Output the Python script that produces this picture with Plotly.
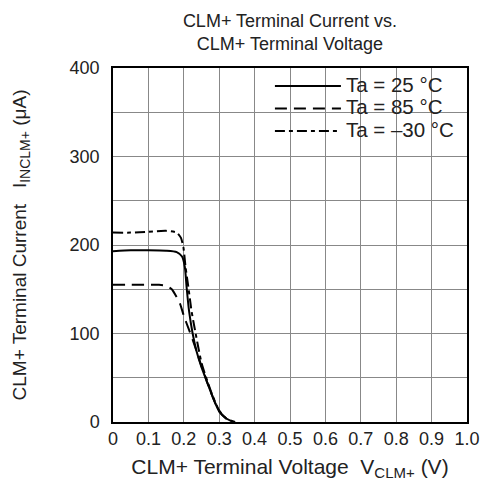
import plotly.graph_objects as go

x_25 = [0, 0.05, 0.10, 0.15, 0.18, 0.195, 0.203, 0.208, 0.215, 0.225, 0.236, 0.25, 0.265, 0.28, 0.30, 0.32, 0.34]
y_25 = [193, 194, 194, 193.5, 192, 187, 175, 152, 125, 100, 80, 62, 46, 30, 12, 4, 0]

x_85 = [0, 0.05, 0.10, 0.13, 0.15, 0.166, 0.18, 0.19, 0.20, 0.213, 0.225, 0.236, 0.25, 0.265, 0.28, 0.30, 0.33]
y_85 = [155, 155, 155, 155, 154, 150, 141, 133, 120, 106, 93, 80, 63, 46, 30, 12, 0]

x_m30 = [0, 0.05, 0.10, 0.15, 0.18, 0.192, 0.199, 0.205, 0.213, 0.222, 0.232, 0.25, 0.265, 0.28, 0.30, 0.32, 0.345]
y_m30 = [214, 214, 215, 216, 214, 208, 197, 175, 152, 125, 103, 67, 48, 31, 13, 4, 0]

series_names = ["Ta = 25 °C", "Ta = 85 °C", "Ta = –30 °C"]

x_ticks = [0, 0.1, 0.2, 0.3, 0.4, 0.5, 0.6, 0.7, 0.8, 0.9, 1.0]
x_tick_text = ["0", "0.1", "0.2", "0.3", "0.4", "0.5", "0.6", "0.7", "0.8", "0.9", "1.0"]
y_ticks = [0, 100, 200, 300, 400]

FONT = "Arial, Liberation Sans, sans-serif"
TXT = "#222"


def big(s, px=20.5):
    return f'<span style="font-size:{px}px">{s}</span>'


fig = go.Figure()
fig.add_trace(go.Scatter(x=x_25, y=y_25, mode="lines", name=big(series_names[0]),
                         line=dict(color="black", width=2, shape="spline", smoothing=0.6)))
fig.add_trace(go.Scatter(x=x_85, y=y_85, mode="lines", name=big(series_names[1]),
                         line=dict(color="black", width=2, dash="12px,7px", shape="spline", smoothing=0.6)))
fig.add_trace(go.Scatter(x=x_m30, y=y_m30, mode="lines", name=big(series_names[2]),
                         line=dict(color="black", width=2, dash="10px,4px,4px,4px", shape="spline", smoothing=0.6)))

fig.update_layout(
    width=483, height=491,
    margin=dict(l=113, r=16, t=68, b=69, autoexpand=False),
    paper_bgcolor="white", plot_bgcolor="white",
    font=dict(family=FONT, size=18, color=TXT),
    title=dict(text="CLM+ Terminal Current vs.<br>CLM+ Terminal Voltage",
               x=(113 + 467) / 2 / 483, xanchor="center", y=0.945, yanchor="top",
               font=dict(size=18, family=FONT, color=TXT)),
    showlegend=True,
    legend=dict(x=0.98, xanchor="right", y=0.995, yanchor="top", bgcolor="rgba(0,0,0,0)",
                font=dict(size=15, family=FONT, color=TXT),
                itemwidth=66, tracegroupgap=0, borderwidth=0),
    shapes=[dict(type="rect", xref="paper", yref="paper", x0=(265 - 113) / 354, x1=1,
                 y0=1 - 76 / 354, y1=1, fillcolor="white", line=dict(width=0), layer="below")],
    xaxis=dict(range=[0, 1.0], tickvals=x_ticks, ticktext=x_tick_text,
               showgrid=True, gridcolor="#888", gridwidth=1,
               showline=True, linecolor="black", linewidth=1.5, mirror=True,
               ticks="", zeroline=False, layer="above traces",
               tickfont=dict(size=18, family=FONT, color=TXT),
               title=dict(text='CLM+ Terminal Voltage  V<sub><span style="font-size:15px">CLM+</span></sub> (V)',
                          font=dict(size=21, family=FONT, color=TXT), standoff=11)),
    yaxis=dict(range=[0, 400], tickvals=y_ticks,
               showgrid=True, gridcolor="#888", gridwidth=1,
               minor=dict(dtick=50, showgrid=True, gridcolor="#888", gridwidth=1),
               showline=True, linecolor="black", linewidth=1.5, mirror=True,
               ticks="", zeroline=False, ticklabelstandoff=8,
               tickfont=dict(size=18, family=FONT, color=TXT),
               title=dict(text='CLM+ Terminal Current   I<sub><span style="font-size:14px">INCLM+</span></sub> (μA)',
                          font=dict(size=19, family=FONT, color=TXT), standoff=38)),
)

fig.write_html("out.html", config={"displayModeBar": False},
               post_script="document.body.style.margin='0';document.body.style.overflow='hidden';")
